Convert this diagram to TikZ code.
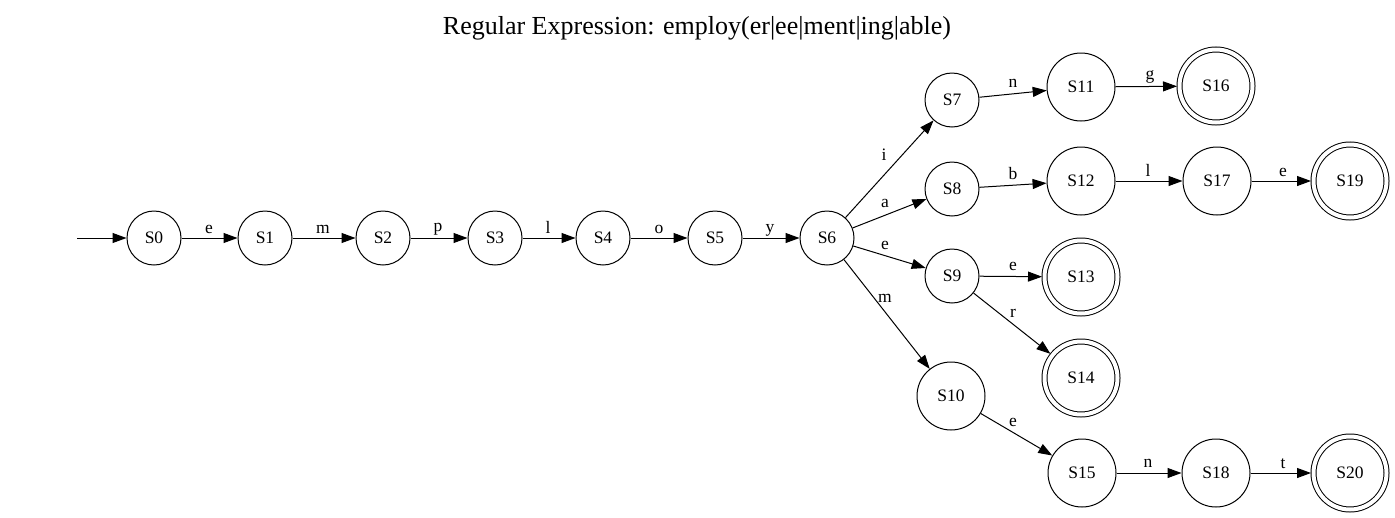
\documentclass[tikz,border=0pt]{standalone}
\usepackage{fontspec}
\setmainfont{Liberation Serif}
\usetikzlibrary{arrows.meta}
\tikzset{
  st/.style={circle, draw, line width=1pt, minimum size=54pt, inner sep=0pt, font=\fontsize{17.5}{19}\selectfont},
  bigst/.style={st, minimum size=68pt},
  acc/.style={st, minimum size=73pt, double, double distance=4pt, outer sep=2.5pt},
  ar/.style={line width=1pt, -{Triangle[length=14pt,width=10pt]}},
  lbl/.style={inner sep=0pt, font=\fontsize{17.5}{19}\selectfont}
}
\begin{document}
\begin{tikzpicture}[x=1pt,y=-1pt]
\useasboundingbox (0,0) rectangle (1395,517);
\node[font=\fontsize{26}{29}\selectfont] (title) at (697,28) {Regular Expression: employ(er|ee|ment|ing|able)};
\coordinate (start) at (77,238);
\node[st] (S0) at (154,238) {S0};
\node[st] (S1) at (265,238) {S1};
\node[st] (S2) at (383,238) {S2};
\node[st] (S3) at (495,238) {S3};
\node[st] (S4) at (603,238) {S4};
\node[st] (S5) at (715,238) {S5};
\node[st] (S6) at (827,238) {S6};
\node[st] (S7) at (952,100) {S7};
\node[st] (S8) at (952,189) {S8};
\node[st] (S9) at (952,276) {S9};
\node[bigst] (S10) at (951,396) {S10};
\node[bigst] (S11) at (1081,87) {S11};
\node[bigst] (S12) at (1081,181) {S12};
\node[acc] (S13) at (1081,277) {S13};
\node[acc] (S14) at (1081,378) {S14};
\node[bigst] (S15) at (1082,473) {S15};
\node[acc] (S16) at (1216,86) {S16};
\node[bigst] (S17) at (1217,181) {S17};
\node[bigst] (S18) at (1216,473) {S18};
\node[acc] (S19) at (1350,181) {S19};
\node[acc] (S20) at (1350,473) {S20};

\draw[ar] (start) -- (S0);
\draw[ar] (S0) -- (S1) node[lbl] at (209,229) {e};
\draw[ar] (S1) -- (S2) node[lbl] at (323,229) {m};
\draw[ar] (S2) -- (S3) node[lbl] at (438,229) {p};
\draw[ar] (S3) -- (S4) node[lbl] at (548,227) {l};
\draw[ar] (S4) -- (S5) node[lbl] at (659,229) {o};
\draw[ar] (S5) -- (S6) node[lbl] at (770,230) {y};
\draw[ar] (S6) -- (S7) node[lbl] at (884,155) {i};
\draw[ar] (S6) -- (S8) node[lbl] at (885,203) {a};
\draw[ar] (S6) -- (S9) node[lbl] at (885,245) {e};
\draw[ar] (S6) -- (S10) node[lbl] at (885,298) {m};
\draw[ar] (S7) -- (S11) node[lbl] at (1013,83) {n};
\draw[ar] (S8) -- (S12) node[lbl] at (1013,174) {b};
\draw[ar] (S9) -- (S13) node[lbl] at (1013,266) {e};
\draw[ar] (S9) -- (S14) node[lbl] at (1013,313) {r};
\draw[ar] (S10) -- (S15) node[lbl] at (1013,422) {e};
\draw[ar] (S11) -- (S16) node[lbl] at (1150,77) {g};
\draw[ar] (S12) -- (S17) node[lbl] at (1148,170) {l};
\draw[ar] (S17) -- (S19) node[lbl] at (1283,172) {e};
\draw[ar] (S15) -- (S18) node[lbl] at (1148,463) {n};
\draw[ar] (S18) -- (S20) node[lbl] at (1283,464) {t};
\end{tikzpicture}
\end{document}
